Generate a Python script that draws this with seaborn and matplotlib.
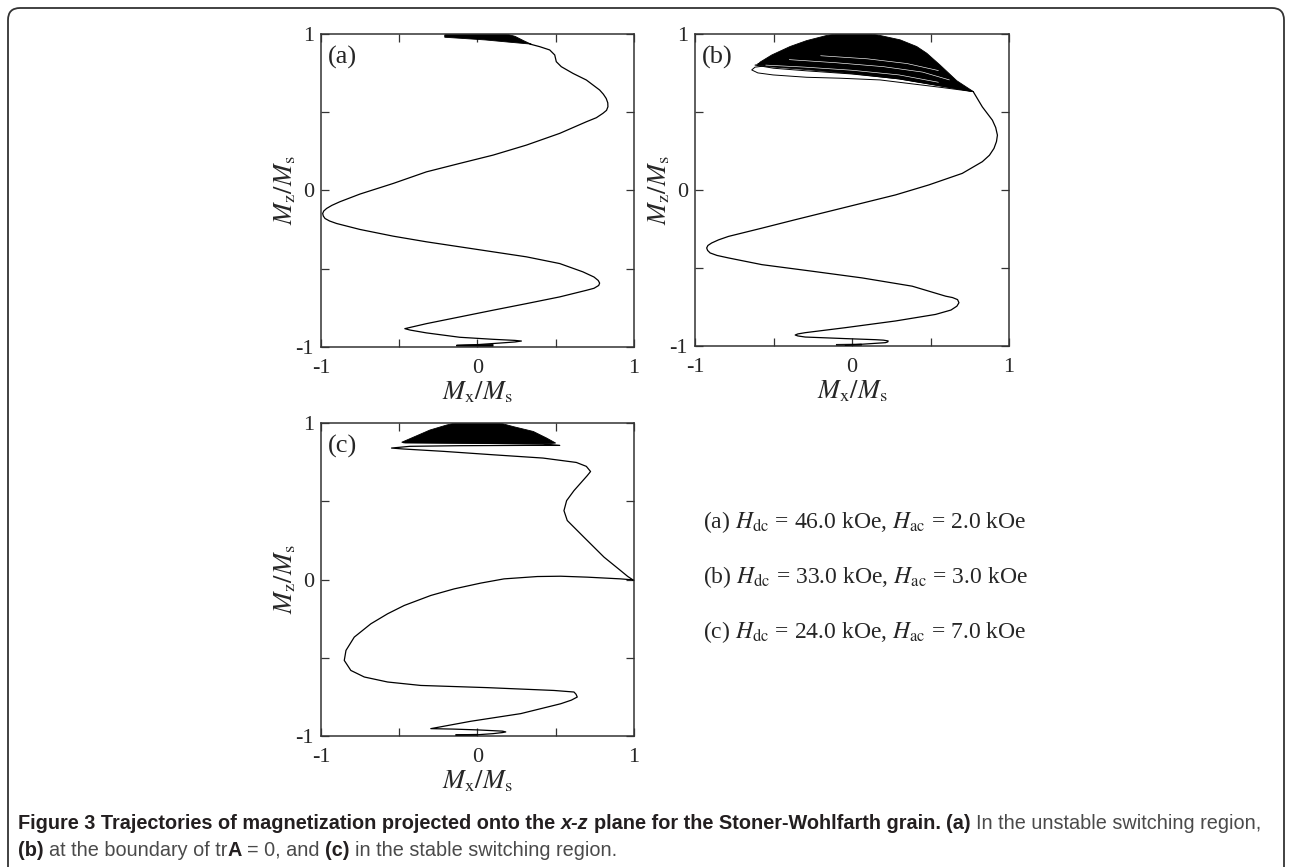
import numpy as np
import pandas as pd
import seaborn as sns
import matplotlib.pyplot as plt
from matplotlib.patches import FancyBboxPatch

# ---- (a) H_dc = 46.0 kOe, H_ac = 2.0 kOe : main trajectory, bottom -> top
traj_a_x = [-0.13, 0.0, 0.143, 0.24, 0.281, 0.24, 0.10, -0.113, -0.326, -0.43, -0.464, -0.43, -0.326,
            -0.113, 0.10, 0.313, 0.526, 0.696, 0.745, 0.775, 0.781, 0.772, 0.745, 0.674, 0.526, 0.313,
            0.10, -0.113, -0.326, -0.538, -0.751, -0.90, -0.945, -0.974, -0.985, -0.989, -0.982,
            -0.964, -0.93, -0.879, -0.751, -0.538, -0.326, -0.113, 0.10, 0.313, 0.526, 0.696, 0.76,
            0.802, 0.825, 0.834, 0.833, 0.823, 0.805, 0.781, 0.696, 0.611, 0.536, 0.504, 0.494,
            0.462, 0.398, 0.334]
traj_a_z = [-0.99, -0.985, -0.975, -0.968, -0.962, -0.958, -0.951, -0.938, -0.910, -0.892, -0.883,
            -0.875, -0.851, -0.808, -0.765, -0.723, -0.680, -0.638, -0.625, -0.607, -0.592, -0.575,
            -0.553, -0.520, -0.467, -0.424, -0.392, -0.360, -0.328, -0.292, -0.249, -0.211, -0.195,
            -0.179, -0.163, -0.147, -0.131, -0.115, -0.095, -0.072, -0.023, 0.045, 0.119, 0.173,
            0.226, 0.290, 0.365, 0.439, 0.465, 0.493, 0.512, 0.535, 0.560, 0.588, 0.615, 0.642,
            0.706, 0.748, 0.791, 0.823, 0.866, 0.898, 0.919, 0.936]
# dense precession near +z and the start near -z
cloud_a_x = [-0.209, -0.10, 0.05, 0.20, 0.334, 0.345, 0.30, 0.24, 0.185, -0.20, -0.209]
cloud_a_z = [0.979, 0.972, 0.962, 0.948, 0.936, 0.934, 0.955, 0.985, 1.0, 1.0, 0.994]
start_a_x = [-0.134, 0.10, 0.10, -0.134]
start_a_z = [-0.995, -0.997, -0.984, -0.988]

# ---- (b) H_dc = 33.0 kOe, H_ac = 3.0 kOe
traj_b_x = [-0.043, 0.064, 0.213, 0.228, 0.230, 0.20, 0.150, -0.043, -0.298, -0.345, -0.362, -0.345,
            -0.298, -0.043, 0.277, 0.532, 0.630, 0.668, 0.681, 0.672, 0.640, 0.596, 0.383, 0.064,
            -0.255, -0.574, -0.787, -0.86, -0.904, -0.920, -0.926, -0.918, -0.894, -0.85, -0.787,
            -0.574, -0.362, -0.149, 0.064, 0.277, 0.489, 0.702, 0.830, 0.875, 0.904, 0.920, 0.926,
            0.915, 0.894, 0.830, 0.773]
traj_b_z = [-0.996, -0.989, -0.979, -0.974, -0.968, -0.963, -0.960, -0.953, -0.943, -0.936, -0.930,
            -0.923, -0.915, -0.883, -0.840, -0.798, -0.770, -0.745, -0.723, -0.703, -0.690, -0.681,
            -0.617, -0.564, -0.521, -0.479, -0.436, -0.420, -0.404, -0.388, -0.372, -0.356, -0.340,
            -0.320, -0.298, -0.245, -0.191, -0.138, -0.085, -0.032, 0.032, 0.106, 0.181, 0.222,
            0.266, 0.310, 0.351, 0.400, 0.447, 0.532, 0.628]
cloud_b_x = [-0.60, -0.586, -0.511, -0.395, -0.289, -0.161, -0.10, 0.12, 0.178, 0.306, 0.412, 0.476,
             0.561, 0.667, 0.773, 0.55, 0.3, 0.0, -0.3, -0.52, -0.60]
cloud_b_z = [0.80, 0.819, 0.865, 0.919, 0.957, 0.99, 1.0, 1.0, 0.99, 0.962, 0.919, 0.876,
             0.80, 0.70, 0.630, 0.668, 0.711, 0.745, 0.772, 0.789, 0.80]
start_b_x = [-0.10, 0.06, 0.06, -0.10]
start_b_z = [-0.997, -0.997, -0.988, -0.99]
loop_b1_x = [-0.30, -0.45, -0.55, -0.618, -0.639, -0.60, -0.503, -0.289, -0.076, 0.178, 0.348, 0.561, 0.773]
loop_b1_z = [0.80, 0.80, 0.795, 0.787, 0.769, 0.750, 0.737, 0.722, 0.716, 0.705, 0.684, 0.658, 0.630]
loop_b2_x = [-0.45, -0.55, -0.618, -0.5, -0.3, 0.0, 0.3, 0.55, 0.773]
loop_b2_z = [0.815, 0.812, 0.800, 0.780, 0.764, 0.743, 0.712, 0.670, 0.630]
loop_b3_x = [-0.45, -0.55, -0.60, -0.45, -0.2, 0.1, 0.4, 0.773]
loop_b3_z = [0.822, 0.818, 0.810, 0.800, 0.785, 0.762, 0.725, 0.630]
# thin gaps between the overlapping precession loops
gap_b1_x = [-0.55, -0.3, 0.0, 0.3, 0.55]
gap_b1_z = [0.80, 0.787, 0.767, 0.737, 0.69]
gap_b2_x = [-0.40, -0.1, 0.2, 0.45, 0.62]
gap_b2_z = [0.835, 0.815, 0.79, 0.755, 0.705]
gap_b3_x = [-0.2, 0.1, 0.35, 0.55]
gap_b3_z = [0.86, 0.84, 0.81, 0.765]

# ---- (c) H_dc = 24.0 kOe, H_ac = 7.0 kOe
traj_c_x = [-0.138, 0.0, 0.10, 0.16, 0.181, 0.16, 0.10, 0.0, -0.15, -0.298, -0.043, 0.277, 0.532,
            0.60, 0.638, 0.630, 0.617, 0.489, 0.064, -0.362, -0.574, -0.723, -0.809, -0.851, -0.840,
            -0.787, -0.681, -0.574, -0.468, -0.298, -0.149, 0.021, 0.170, 0.383, 0.532, 0.702,
            0.915, 0.989, 0.996, 0.96, 0.915, 0.809, 0.681, 0.574, 0.553, 0.570, 0.617, 0.702,
            0.723, 0.696, 0.632, 0.419, 0.10, -0.219, -0.474, -0.549, -0.432, -0.113, 0.313,
            0.526, 0.419, -0.113, -0.474]
traj_c_z = [-0.994, -0.992, -0.985, -0.978, -0.974, -0.969, -0.966, -0.961, -0.956, -0.953, -0.906,
            -0.857, -0.794, -0.771, -0.751, -0.733, -0.719, -0.709, -0.691, -0.677, -0.655, -0.623,
            -0.581, -0.517, -0.453, -0.368, -0.283, -0.219, -0.166, -0.102, -0.060, -0.023, 0.004,
            0.019, 0.021, 0.015, 0.004, -0.002, -0.004, 0.02, 0.057, 0.143, 0.270, 0.377, 0.440,
            0.504, 0.568, 0.664, 0.690, 0.723, 0.748, 0.776, 0.797, 0.819, 0.834, 0.840, 0.851,
            0.855, 0.857, 0.857, 0.866, 0.872, 0.875]
cloud_c_x = [-0.484, -0.41, -0.304, -0.197, -0.144, 0.144, 0.229, 0.357, 0.442, 0.50, 0.46, 0.0, -0.46]
cloud_c_z = [0.877, 0.909, 0.955, 0.987, 1.0, 1.0, 0.977, 0.946, 0.904, 0.872, 0.868, 0.870, 0.873]
start_c_x = [-0.138, 0.0, 0.0, -0.138]
start_c_z = [-0.997, -0.997, -0.989, -0.991]

panel_tags = ["(a)", "(b)", "(c)"]
field_notes = [r"(a) $H_{\mathrm{dc}}$ = 46.0 kOe, $H_{\mathrm{ac}}$ = 2.0 kOe",
               r"(b) $H_{\mathrm{dc}}$ = 33.0 kOe, $H_{\mathrm{ac}}$ = 3.0 kOe",
               r"(c) $H_{\mathrm{dc}}$ = 24.0 kOe, $H_{\mathrm{ac}}$ = 7.0 kOe"]
tick_vals = [-1, -0.5, 0, 0.5, 1]
tick_text = ["-1", "", "0", "", "1"]

caption_1 = [("Figure 3 Trajectories of magnetization projected onto the ", "bold", "normal"),
             ("x-z", "bold", "italic"),
             (" plane for the Stoner-Wohlfarth grain. ", "bold", "normal"),
             ("(a)", "bold", "normal"),
             (" In the unstable switching region,", "normal", "normal")]
caption_2 = [("(b)", "bold", "normal"),
             (" at the boundary of tr", "normal", "normal"),
             ("A", "bold", "normal"),
             (" = 0, and ", "normal", "normal"),
             ("(c)", "bold", "normal"),
             (" in the stable switching region.", "normal", "normal")]


def draw_panel(ax, tag, path_x, path_z, cloud, start, loops=(), gaps=()):
    ax.fill(cloud[0], cloud[1], color="black", lw=0.6, zorder=2)
    ax.fill(start[0], start[1], color="black", lw=0.6, zorder=2)
    for gx, gz in gaps:
        ax.plot(gx, gz, color="white", lw=0.45, zorder=2.5)
    for lx, lz in loops:
        ax.plot(lx, lz, color="black", lw=0.7, zorder=2)
    sns.lineplot(x=path_x, y=path_z, sort=False, estimator=None, color="black",
                 linewidth=0.9, ax=ax, zorder=3)
    for ln in ax.lines:
        ln.set_solid_joinstyle("round")
    ax.set_xlim(-1, 1)
    ax.set_ylim(-1, 1)
    ax.set_xticks(tick_vals)
    ax.set_xticklabels(tick_text)
    ax.set_yticks(tick_vals)
    ax.set_yticklabels(tick_text)
    ax.tick_params(direction="in", top=True, right=True, length=6, width=0.9,
                   labelsize=16, color="#333333")
    ax.tick_params(axis="x", pad=9)
    ax.tick_params(axis="y", pad=5)
    for sp in ax.spines.values():
        sp.set_linewidth(1.1)
        sp.set_color("#333333")
    ax.set_xlabel(r"$M_{\mathrm{x}}/M_{\mathrm{s}}$", fontsize=19, labelpad=1)
    ax.set_ylabel(r"$M_{\mathrm{z}}/M_{\mathrm{s}}$", fontsize=19, labelpad=-2)
    ax.text(0.022, 0.925, tag, transform=ax.transAxes, fontsize=19, ha="left", va="center")


def put_runs(fig, x, y, runs, size, family, color_bold, color_reg):
    r = fig.canvas.get_renderer()
    probe1 = fig.text(0, 0, "x x", fontsize=size, family=family)
    probe2 = fig.text(0, 0, "xx", fontsize=size, family=family)
    sw = (probe1.get_window_extent(r).width - probe2.get_window_extent(r).width) / fig.bbox.width
    probe1.remove()
    probe2.remove()
    for text, weight, style in runs:
        lead = len(text) - len(text.lstrip(" "))
        trail = len(text) - len(text.rstrip(" "))
        core = text.strip(" ")
        x += lead * sw
        t = fig.text(x, y, core, fontsize=size, fontweight=weight, fontstyle=style,
                     family=family, color=color_bold if weight == "bold" else color_reg,
                     ha="left", va="center")
        x += t.get_window_extent(r).width / fig.bbox.width + trail * sw


def main():
    sns.set_style("ticks")
    plt.rcParams["font.family"] = ["Liberation Serif", "DejaVu Serif"]
    plt.rcParams["mathtext.fontset"] = "stix"
    plt.rcParams["axes.unicode_minus"] = False

    fig = plt.figure(figsize=(12.9, 8.67), dpi=100)
    ax_a = fig.add_axes([0.2488, 0.5998, 0.2426, 0.3610])
    ax_b = fig.add_axes([0.5388, 0.6010, 0.2434, 0.3599])
    ax_c = fig.add_axes([0.2488, 0.1511, 0.2426, 0.3610])

    draw_panel(ax_a, panel_tags[0], traj_a_x, traj_a_z, (cloud_a_x, cloud_a_z), (start_a_x, start_a_z))
    draw_panel(ax_b, panel_tags[1], traj_b_x, traj_b_z, (cloud_b_x, cloud_b_z), (start_b_x, start_b_z),
               loops=[(loop_b1_x, loop_b1_z), (loop_b2_x, loop_b2_z), (loop_b3_x, loop_b3_z)],
               gaps=[(gap_b1_x, gap_b1_z), (gap_b2_x, gap_b2_z), (gap_b3_x, gap_b3_z)])
    draw_panel(ax_c, panel_tags[2], traj_c_x, traj_c_z, (cloud_c_x, cloud_c_z), (start_c_x, start_c_z))

    for note, yy in zip(field_notes, [0.398, 0.3345, 0.271]):
        fig.text(0.5450, yy, note, fontsize=17, ha="left", va="center")

    cap_font = ["Liberation Sans Narrow", "Liberation Sans"]
    put_runs(fig, 0.014, 0.0507, caption_1, 14.3, cap_font, "#231f20", "#4a4a4a")
    put_runs(fig, 0.014, 0.0196, caption_2, 14.3, cap_font, "#231f20", "#4a4a4a")

    frame = FancyBboxPatch((0.08, -0.3), 12.76, 8.89, boxstyle="round,pad=0,rounding_size=0.12",
                           transform=fig.dpi_scale_trans, fill=False, ec="#333333", lw=1.3)
    fig.add_artist(frame)

    fig.savefig("out.png", dpi=100)
    plt.close(fig)


if __name__ == "__main__":
    main()
